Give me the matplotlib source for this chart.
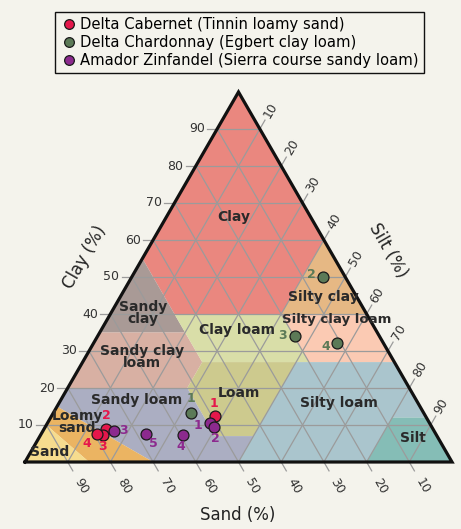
import matplotlib.pyplot as plt
from matplotlib.lines import Line2D
from matplotlib.patches import Polygon
import numpy as np

plt.rcParams['font.family'] = ['DejaVu Sans']

# soil texture classes, vertices given as (clay %, silt %); sand is the rest
class_names = ['Clay', 'Sandy\nclay', 'Silty clay', 'Sandy clay\nloam', 'Clay loam',
               'Silty clay loam', 'Loam', 'Silty loam', 'Silt', 'Sandy loam',
               'Loamy\nsand', 'Sand']
class_clay = [[100, 55, 40, 40, 60], [55, 35, 35, 40], [60, 40, 40],
              [35, 35, 27, 20, 20], [40, 40, 27, 27, 35], [40, 40, 27, 27],
              [27, 27, 7, 7, 20], [27, 27, 12, 12, 0, 0, 7], [12, 0, 0, 12],
              [20, 20, 7, 7, 0, 0, 15], [15, 0, 0, 10], [10, 0, 0]]
class_silt = [[0, 0, 15, 40, 40], [0, 0, 20, 15], [40, 40, 60],
              [0, 20, 28, 28, 0], [15, 40, 53, 28, 20], [40, 60, 73, 53],
              [28, 50, 50, 41, 28], [50, 73, 88, 80, 80, 50, 50], [88, 100, 80, 80],
              [0, 28, 41, 50, 50, 30, 0], [0, 30, 15, 0], [0, 15, 0]]
class_colors = ['#ea877f', '#a99a96', '#e6b884', '#d8b0a3', '#d9dea8',
                '#fbcab3', '#cdca8e', '#aac5cd', '#85bdb6', '#abaec2',
                '#ebb462', '#f6dc8e']
# where each class name sits (clay %, silt %)
label_clay = [66.3, 40.3, 44.6, 28.4, 35.7, 38.6, 18.7, 15.9, 6.5, 16.8, 10.8, 2.7]
label_silt = [15.8, 7.5, 47.5, 13.2, 31.9, 53.6, 40.8, 65.6, 87.6, 17.8, 6.8, 4.5]
label_size = [10, 10, 10, 10, 10, 9.5, 10, 10, 10, 10, 10, 10]

# vineyard samples
cab_clay = [12.4, 8.9, 7.3, 7.6]
cab_silt = [38.3, 14.5, 14.6, 13.1]
char_clay = [13.3, 50.0, 34.1, 32.2]
char_silt = [32.2, 44.8, 46.2, 57.0]
zin_clay = [10.5, 9.5, 8.4, 7.3, 7.6]
zin_silt = [38.1, 39.5, 16.6, 33.4, 24.5]
series_names = ['Delta Cabernet (Tinnin loamy sand)',
                'Delta Chardonnay (Egbert clay loam)',
                'Amador Zinfandel (Sierra course sandy loam)']
series_colors = ['#e5174b', '#5c7a57', '#8c2a8e']
ticks = [10, 20, 30, 40, 50, 60, 70, 80, 90]

# number label offsets (pixels) for each sample
cab_off = [(-1, 13), (0, 14), (0, -12), (-10, -10)]
char_off = [(0, 14), (-12, 2), (-13, 0), (-11, -4)]
zin_off = [(-12, -2), (1, -12), (10, 0), (-2, -12), (8, -10)]

bg = '#f4f3ec'
gridc = '#9b9b9b'
h = np.sqrt(3) / 2


def tern(clay, silt):
    clay = np.asarray(clay, dtype=float)
    silt = np.asarray(silt, dtype=float)
    return silt + clay / 2, clay * h


fig = plt.figure(figsize=(4.61, 5.29), dpi=100, facecolor=bg)
ax = fig.add_axes([25 / 461, 67 / 529, 427 / 461, 370 / 529])
ax.set_xlim(0, 100)
ax.set_ylim(0, 100 * h)
ax.axis('off')

# fills
for cl, si, col in zip(class_clay, class_silt, class_colors):
    x, y = tern(cl, si)
    ax.add_patch(Polygon(np.column_stack([x, y]), closed=True, fc=col, ec='none', zorder=1))

# grid + ticks
tl = 2.4
for t in ticks:
    # clay lines
    x0, y0 = tern(t, 0)
    x1, y1 = tern(t, 100 - t)
    ax.plot([x0 - tl, x1], [y0, y1], color=gridc, lw=0.9, zorder=2, clip_on=False)
    ax.text(x0 - tl - 0.5, y0, str(t), ha='right', va='center', fontsize=9, color='#333333')
    # silt lines
    x0, y0 = tern(0, t)
    x1, y1 = tern(100 - t, t)
    ax.plot([x0, x1 + tl * 0.5], [y0, y1 + tl * h], color=gridc, lw=0.9, zorder=2, clip_on=False)
    ax.text(x1 + 5.0 * 0.5, y1 + 5.0 * h, str(t), ha='center', va='center', rotation=60,
            fontsize=9, color='#333333')
    # sand lines
    x0, y0 = tern(100 - t, 0)
    x1, y1 = tern(0, 100 - t)
    ax.plot([x0, x1 + tl * 0.5], [y0, y1 - tl * h], color=gridc, lw=0.9, zorder=2, clip_on=False)
    ax.text(x1 + 6.4 * 0.5, y1 - 6.4 * h, str(t), ha='center', va='center', rotation=-60,
            fontsize=9, color='#333333')

# triangle outline
ax.plot([0, 100, 50, 0], [0, 0, 100 * h, 0], color='#111111', lw=2.3, zorder=3,
        clip_on=False, solid_joinstyle='miter')

# class names
lx, ly = tern(label_clay, label_silt)
for name, x, y, fs in zip(class_names, lx, ly, label_size):
    ax.text(x, y, name, ha='center', va='center', fontsize=fs, fontweight='bold',
            color='#2a2a2a', zorder=4, linespacing=0.85)

# samples
samples = [(cab_clay, cab_silt, cab_off), (char_clay, char_silt, char_off),
           (zin_clay, zin_silt, zin_off)]
for (cl, si, off), col in zip(samples, series_colors):
    x, y = tern(cl, si)
    ax.scatter(x, y, s=62, color=col, edgecolor='#1a1a1a', linewidth=0.9, zorder=5, clip_on=False)
    for i, (xx, yy) in enumerate(zip(x, y)):
        ax.annotate(str(i + 1), (xx, yy), xytext=off[i], textcoords='offset pixels',
                    ha='center', va='center', fontsize=9, fontweight='bold', color=col, zorder=6)

# axis titles
ax.text(14.0, 48.0, 'Clay (%)', rotation=60, ha='center', va='center', fontsize=12, color='#222222')
ax.text(85.0, 49.6, 'Silt (%)', rotation=-60, ha='center', va='center', fontsize=12, color='#222222')
ax.text(49.9, -12.4, 'Sand (%)', ha='center', va='center', fontsize=12, color='#222222')

handles = [Line2D([], [], ls='none', marker='o', markersize=7, markerfacecolor=c,
                  markeredgecolor='#1a1a1a', markeredgewidth=0.9) for c in series_colors]
leg = fig.legend(handles, series_names, loc='upper left', bbox_to_anchor=(55 / 461, 1 - 12 / 529),
                 fontsize=10.6, frameon=True, fancybox=False, edgecolor='#111111', facecolor=bg,
                 framealpha=1, handletextpad=0.15, handlelength=1.2, labelspacing=0.2,
                 borderpad=0.35, borderaxespad=0)
leg.get_frame().set_linewidth(1.0)

fig.savefig('out.png', dpi=100, facecolor=bg)
